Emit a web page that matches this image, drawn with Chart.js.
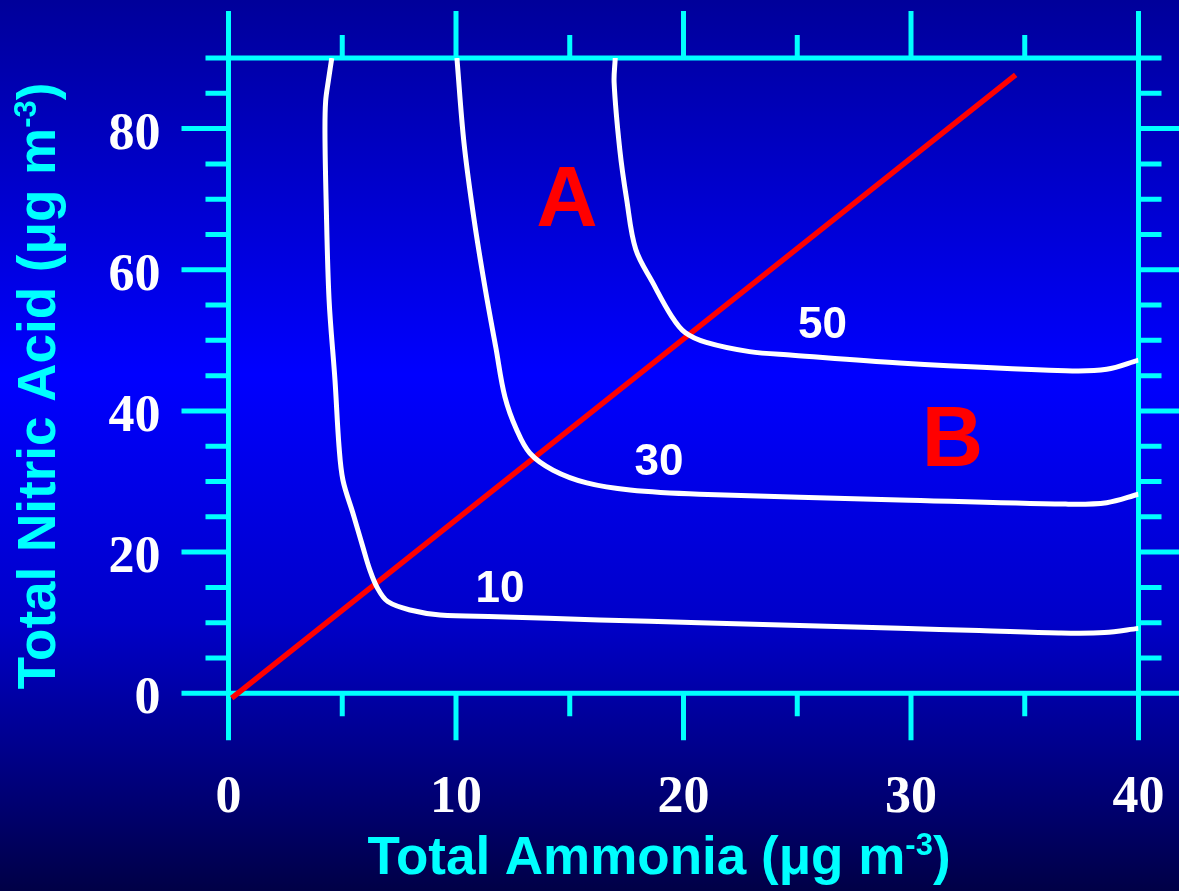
<!DOCTYPE html>
<html>
<head>
<meta charset="utf-8">
<script src="https://cdn.jsdelivr.net/npm/chart.js@4.4.1/dist/chart.umd.min.js"></script>
<style>
  html, body { margin: 0; padding: 0; background: #000060; }
  canvas { display: block; }
</style>
</head>
<body>
<canvas id="chart" width="1179" height="891"></canvas>
<script>
// ---- axis ticks ----
const xMajorTicks = [0, 10, 20, 30, 40];
const xMinorTicks = [5, 15, 25, 35];
const yMajorTicks = [0, 20, 40, 60, 80];
const yMinorTicks = [5, 10, 15, 25, 30, 35, 45, 50, 55, 65, 70, 75, 85, 90];

// ---- PM2.5 nitrate isopleths (ug m-3) ----
const iso10X = [4.54, 4.40, 4.27, 4.24, 4.29, 4.42, 4.68, 4.86, 5.03, 5.47, 5.90, 6.20, 6.55, 7.00, 7.98, 9.30, 11.8, 16.3, 20.7, 29.5, 33.0, 36.5, 38.5, 40.0];
const iso10Y = [90.0, 87.0, 83.9, 79.4, 70.0, 55.8, 44.4, 34.9, 30.2, 25.5, 20.8, 17.6, 14.9, 13.0, 11.8, 11.1, 10.86, 10.4, 10.0, 9.2, 8.9, 8.55, 8.6, 9.2];

const iso30X = [10.04, 10.35, 10.80, 11.30, 11.75, 12.15, 12.67, 13.25, 14.27, 15.75, 17.65, 20.7, 29.5, 36.8, 38.6, 40.0];
const iso30Y = [90.0, 78.0, 67.0, 57.0, 49.0, 42.0, 37.3, 34.0, 31.6, 29.8, 28.8, 28.2, 27.4, 26.8, 27.0, 28.2];

const iso50X = [17.0, 16.95, 17.2, 17.5, 17.9, 18.66, 19.48, 20.07, 21.0, 22.9, 24.8, 29.5, 36.8, 38.6, 40.0];
const iso50Y = [90.0, 86.5, 77.0, 70.0, 62.9, 58.1, 53.4, 51.1, 49.7, 48.4, 47.9, 46.8, 45.7, 45.9, 47.2];

// ---- ratio line ----
const ratioX = [0.14, 34.6];
const ratioY = [-0.67, 87.6];

// ---- labels on the plot ----
const isoLabels = ['10', '30', '50'];
const isoLabelX = [11.93, 18.92, 26.11];
const isoLabelY = [15.1, 33.2, 52.56];

const regionLabels = ['A', 'B'];
const regionLabelX = [14.88, 31.82];
const regionLabelY = [70.55, 36.5];

const CYAN = '#00ffff';
const SANS = '"Liberation Sans", Arial, Helvetica, sans-serif';
const SERIF = '"Liberation Serif", "Times New Roman", Times, serif';

function toPoints(xs, ys) {
  return xs.map((x, i) => ({ x: x, y: ys[i] }));
}

function isoDataset(xs, ys) {
  return {
    data: toPoints(xs, ys),
    showLine: true,
    borderColor: '#ffffff',
    borderWidth: 5,
    borderJoinStyle: 'round',
    pointRadius: 0,
    tension: 0.35,
    fill: false
  };
}

// vertical navy-blue-navy backdrop
const backdrop = {
  id: 'backdrop',
  beforeDraw(chart) {
    const { ctx, width, height } = chart;
    const g = ctx.createLinearGradient(0, 0, 0, height);
    g.addColorStop(0, '#00009a');
    g.addColorStop(0.42, '#0000ff');
    g.addColorStop(0.7, '#0000c8');
    g.addColorStop(1, '#000046');
    ctx.save();
    ctx.fillStyle = g;
    ctx.fillRect(0, 0, width, height);
    ctx.restore();
  }
};

// boxed frame with outward tick marks on all four sides
const frame = {
  id: 'frame',
  beforeDatasetsDraw(chart) {
    const { ctx, chartArea: a, scales: { x, y } } = chart;
    const MAJ = 47, MIN = 23;
    ctx.save();
    ctx.strokeStyle = CYAN;
    ctx.lineWidth = 5;
    ctx.lineCap = 'butt';
    ctx.beginPath();
    const xt = xMajorTicks.map(v => [v, MAJ]).concat(xMinorTicks.map(v => [v, MIN]));
    xt.forEach(([v, len]) => {
      const p = x.getPixelForValue(v);
      ctx.moveTo(p, a.top - len); ctx.lineTo(p, a.top);
      ctx.moveTo(p, a.bottom); ctx.lineTo(p, a.bottom + len);
    });
    const yt = yMajorTicks.map(v => [v, MAJ]).concat(yMinorTicks.map(v => [v, MIN]));
    yt.forEach(([v, len]) => {
      const p = y.getPixelForValue(v);
      ctx.moveTo(a.left - len, p); ctx.lineTo(a.left, p);
      ctx.moveTo(a.right, p); ctx.lineTo(a.right + len, p);
    });
    ctx.moveTo(a.left, a.top); ctx.lineTo(a.left, a.bottom);
    ctx.moveTo(a.right, a.top); ctx.lineTo(a.right, a.bottom);
    ctx.moveTo(a.left, a.top); ctx.lineTo(a.right, a.top);
    ctx.moveTo(a.left, a.bottom); ctx.lineTo(a.right, a.bottom);
    ctx.stroke();
    ctx.restore();
  }
};

// text with a raised "-3" exponent
function drawUnitTitle(ctx, parts, size) {
  const supSize = Math.round(size * 0.58);
  const widths = parts.map(p => {
    ctx.font = 'bold ' + (p.sup ? supSize : size) + 'px ' + SANS;
    return ctx.measureText(p.t).width;
  });
  const total = widths.reduce((s, w) => s + w, 0);
  let cx = -total / 2;
  parts.forEach((p, i) => {
    ctx.font = 'bold ' + (p.sup ? supSize : size) + 'px ' + SANS;
    ctx.fillText(p.t, cx, p.sup ? -size * 0.36 : 0);
    cx += widths[i];
  });
}

const annotations = {
  id: 'annotations',
  afterDatasetsDraw(chart) {
    const { ctx, chartArea: a, scales: { x, y } } = chart;
    ctx.save();
    ctx.textAlign = 'center';
    ctx.textBaseline = 'alphabetic';

    ctx.fillStyle = '#ffffff';
    const s1 = 44;
    ctx.font = 'bold ' + s1 + 'px ' + SANS;
    isoLabels.forEach((t, i) => {
      ctx.fillText(t, x.getPixelForValue(isoLabelX[i]), y.getPixelForValue(isoLabelY[i]) + s1 * 0.716 / 2);
    });

    ctx.fillStyle = '#ff0000';
    const s2 = 85;
    ctx.font = 'bold ' + s2 + 'px ' + SANS;
    regionLabels.forEach((t, i) => {
      ctx.fillText(t, x.getPixelForValue(regionLabelX[i]), y.getPixelForValue(regionLabelY[i]) + s2 * 0.716 / 2);
    });

    // axis titles
    ctx.fillStyle = CYAN;
    ctx.textAlign = 'left';
    ctx.save();
    ctx.translate(a.left + 430.5, a.bottom + 181);
    drawUnitTitle(ctx, [
      { t: 'Total Ammonia (\u03bcg m' },
      { t: '-3', sup: true },
      { t: ')' }
    ], 53);
    ctx.restore();

    ctx.save();
    ctx.translate(55, a.top + 328);
    ctx.rotate(-Math.PI / 2);
    drawUnitTitle(ctx, [
      { t: 'Total Nitric Acid (\u03bcg m' },
      { t: '-3', sup: true },
      { t: ')' }
    ], 53);
    ctx.restore();

    ctx.restore();
  }
};

new Chart(document.getElementById('chart'), {
  type: 'scatter',
  data: {
    datasets: [
      isoDataset(iso10X, iso10Y),
      isoDataset(iso30X, iso30Y),
      isoDataset(iso50X, iso50Y),
      {
        data: toPoints(ratioX, ratioY),
        showLine: true,
        borderColor: '#ff0000',
        borderWidth: 5.5,
        pointRadius: 0,
        clip: false,
        fill: false
      }
    ]
  },
  options: {
    responsive: false,
    animation: false,
    devicePixelRatio: 1,
    layout: { padding: { left: 0, top: 58, right: 40.5, bottom: 0 } },
    plugins: { legend: { display: false }, tooltip: { enabled: false } },
    scales: {
      x: {
        type: 'linear',
        position: 'bottom',
        min: 0,
        max: 40,
        afterBuildTicks: s => { s.ticks = xMajorTicks.map(v => ({ value: v })); },
        afterFit: s => { s.height = 891 - 693.3; s.paddingLeft = 0; s.paddingRight = 0; },
        grid: { display: false, drawTicks: false },
        border: { display: false },
        ticks: {
          color: '#ffffff',
          padding: 74,
          maxRotation: 0,
          autoSkip: false,
          font: { family: SERIF, size: 52, weight: 'bold' }
        }
      },
      y: {
        type: 'linear',
        position: 'left',
        min: 0,
        max: 90,
        afterBuildTicks: s => { s.ticks = yMajorTicks.map(v => ({ value: v })); },
        afterFit: s => { s.width = 228.5; s.paddingTop = 0; s.paddingBottom = 0; },
        grid: { display: false, drawTicks: false },
        border: { display: false },
        ticks: {
          color: '#ffffff',
          padding: 68,
          labelOffset: 6.5,
          autoSkip: false,
          font: { family: SERIF, size: 52, weight: 'bold' }
        }
      }
    }
  },
  plugins: [backdrop, frame, annotations]
});
</script>
</body>
</html>
